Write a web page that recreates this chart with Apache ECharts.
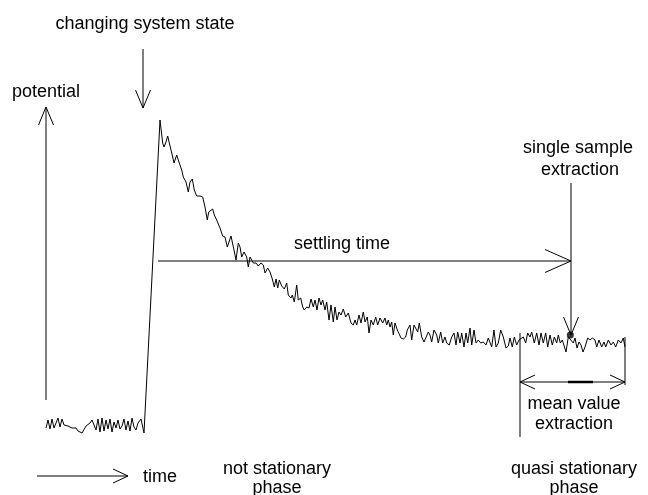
<!DOCTYPE html>
<html>
<head>
<meta charset="utf-8">
<script src="https://cdn.jsdelivr.net/npm/echarts@6/dist/echarts.min.js"></script>
<style>html,body{margin:0;padding:0;background:#fff}#c{width:648px;height:495px}</style>
</head>
<body>
<div id="c"></div>
<script>
// ---- signal: time (x) and potential (y), arbitrary units ----
var times = [
46,48,50,52,54,56,58,60,62,64,66,68,70,72,74,76,78,80,82,84,86,88,90,92,94,96,98,100,102,104,106,108,110,112,114,116,118,120,122,124,126,128,130,132,134,136,138,141,144,
160,162.7,164,166,167.7,169.3,171,172.7,174,176.7,178.3,181.7,183.3,186,188.3,190,192.3,194.3,196.7,200,202.7,205,207.3,208.7,210.7,212.7,214.3,216.7,220,222.7,225,227.3,229.3,231,232.7,234,236,238.3,240,241.7,244,246.7,248.3,250,251.7,253.3,256,258.3,261,263.3,265,267.7,270,272.3,274.3,276,277.7,279.3,281.7,284.3,286.7,288.3,291,292.3,294.3,296.7,298.3,300.7,302.7,304.3,306.7,309,311,313.3,315,317,319,321,322.7,325,326.7,329,331,333.3,335,337,339,341,343.3,345.7,348.3,351,353.3,355,356.7,359,361,363.3,365,367.3,369,371,373.3,375.7,377.7,380,382.7,385,386.7,388.3,390,391.7,393.3,395,397.3,399.3,401,403.3,405.7,407.3,410,411.7,414,416,417.7,419.3,421.7,424,426,428.3,430,431.7,434,436.7,438.3,440.7,442.7,445,446.7,449.3,451.7,454,456,457.7,460,461.7,464,466,467.7,470,471.7,474,476,478.3,480.7,483.3,486,488.3,490,491.7,494,496,498.3,500.7,503.3,506,508.3,510,512.3,514.3,516.7,519,521,523.3,525.7,527.7,530,531.7,534.3,536.7,539,541,543.3,545.7,547.7,550,552.3,554.3,556.7,558.3,560.3,562.3,564.3,566,568.3,570.3,573.3,575,577,579,581,583,585,587.7,590,592.3,595,596.7,599,601.7,604,605.7,608.3,611,613.3,615.7,618.3,621,623.3,625
];
var potential = [
67,75,66,76,67,72,77,68,76,70,71,69,70,67,66,67,64,65,62,64,69,67,72,75,73,65,76,63,77,64,75,66,76,63,73,67,75,66,69,76,65,74,64,77,68,65,72,76,62,
375,352,348,353,359,352,350,338,332,340,335,325,318,313,303,313,316,305,299,299,298,288,275,283,281,286,280,275,267,259,258,248,248,259,258,245,235,252,248,238,243,238,228,238,237,232,232,229,232,230,222,227,223,216,208,216,207,215,209,206,212,200,197,200,193,210,195,197,188,185,188,187,196,188,195,185,197,190,195,185,193,175,190,173,188,175,183,180,186,178,182,172,170,175,170,180,172,183,173,178,162,175,170,178,170,177,172,177,170,175,168,173,160,172,165,167,157,156,158,165,170,155,170,172,163,172,158,153,152,163,160,153,165,160,152,163,152,158,152,150,158,162,150,163,152,162,148,162,152,167,150,165,152,155,152,153,150,157,158,148,165,148,152,165,158,147,149,157,148,158,150,155,153,158,152,162,158,163,152,162,150,162,152,162,148,160,150,158,152,160,152,155,153,143,158,160,152,157,147,153,150,143,148,157,155,157,155,148,155,148,153,148,155,150,153,148,155,152,157,148
];
// single sample point
var samplePoint = [570.3, 160];

// ---- annotations ----
// arrows: [x1, y1, x2, y2, headAtStart, headAtEnd, headKind]
var arrows = [
  [46, 95, 46, 388, 0, 1, 'm'],     // potential axis
  [143, 446, 143, 387, 0, 1, 'm'],  // changing system state
  [158, 234, 571, 234, 0, 1, 'l'],  // settling time
  [571, 312, 571, 160, 0, 1, 'm'],  // single sample extraction
  [37, 19, 128, 19, 0, 1, 's'],     // time axis
  [520, 113, 625, 113, 1, 1, 's']   // mean value extraction range
];
// plain segments: [x1, y1, x2, y2, width]
var segments = [
  [520, 162, 520, 58, 1],
  [625, 158, 625, 110, 1],
  [568, 113, 593, 113, 2.5]
];
// labels: [text, x, y, align]
var labels = [
  ['changing system state', 145, 471, 'center'],
  ['potential', 12, 403, 'left'],
  ['settling time', 342, 251, 'center'],
  ['single sample', 578, 347, 'center'],
  ['extraction', 580, 325, 'center'],
  ['time', 143, 18, 'left'],
  ['not stationary', 277, 26, 'center'],
  ['phase', 277, 7, 'center'],
  ['mean value', 574, 91, 'center'],
  ['extraction', 574, 71, 'center'],
  ['quasi stationary', 574, 26, 'center'],
  ['phase', 574, 7, 'center']
];

var headSize = { l: [26, 11.5], m: [18, 7.5], s: [15, 7] };
var FONT = '"Liberation Sans", Arial, sans-serif';
var FS = 18;

var signal = times.map(function (t, i) { return [t, potential[i]]; });

function head(tip, from, size) {
  var dx = tip[0] - from[0], dy = tip[1] - from[1];
  var L = Math.sqrt(dx * dx + dy * dy) || 1;
  var ux = dx / L, uy = dy / L;
  var bx = tip[0] - ux * size[0], by = tip[1] - uy * size[0];
  return [[bx - uy * size[1], by + ux * size[1]], tip, [bx + uy * size[1], by - ux * size[1]]];
}

var chart = echarts.init(document.getElementById('c'), null, { renderer: 'canvas' });
chart.setOption({
  animation: false,
  backgroundColor: '#fff',
  grid: { left: 0, right: 0, top: 0, bottom: 0 },
  xAxis: { type: 'value', min: 0, max: 648, show: false },
  yAxis: { type: 'value', min: 0, max: 495, show: false },
  series: [
    {
      type: 'line', data: signal, symbol: 'none', smooth: false,
      lineStyle: { color: '#000', width: 1 }, z: 3
    },
    {
      type: 'scatter', data: [samplePoint], symbol: 'circle', symbolSize: 7,
      itemStyle: { color: '#000' }, z: 5
    },
    {
      type: 'custom', clip: false, z: 4,
      data: arrows,
      renderItem: function (params, api) {
        var a = arrows[params.dataIndex];
        var p1 = api.coord([a[0], a[1]]), p2 = api.coord([a[2], a[3]]);
        var sz = headSize[a[6]];
        var st = { stroke: '#000', lineWidth: 1, fill: null };
        var children = [{ type: 'line', shape: { x1: p1[0], y1: p1[1], x2: p2[0], y2: p2[1] }, style: st }];
        if (a[5]) children.push({ type: 'polyline', shape: { points: head(p2, p1, sz) }, style: st });
        if (a[4]) children.push({ type: 'polyline', shape: { points: head(p1, p2, sz) }, style: st });
        return { type: 'group', children: children };
      }
    },
    {
      type: 'custom', clip: false, z: 4,
      data: segments,
      renderItem: function (params, api) {
        var s = segments[params.dataIndex];
        var p1 = api.coord([s[0], s[1]]), p2 = api.coord([s[2], s[3]]);
        return { type: 'line', shape: { x1: p1[0], y1: p1[1], x2: p2[0], y2: p2[1] },
          style: { stroke: '#000', lineWidth: s[4] } };
      }
    },
    {
      type: 'custom', clip: false, z: 6,
      data: labels.map(function (l) { return [l[1], l[2]]; }),
      renderItem: function (params, api) {
        var l = labels[params.dataIndex];
        var p = api.coord([l[1], l[2]]);
        return { type: 'text', x: p[0], y: p[1],
          style: { text: l[0], fill: '#000', font: FS + 'px ' + FONT, textAlign: l[3], textVerticalAlign: 'middle' } };
      }
    }
  ]
});
</script>
</body>
</html>
